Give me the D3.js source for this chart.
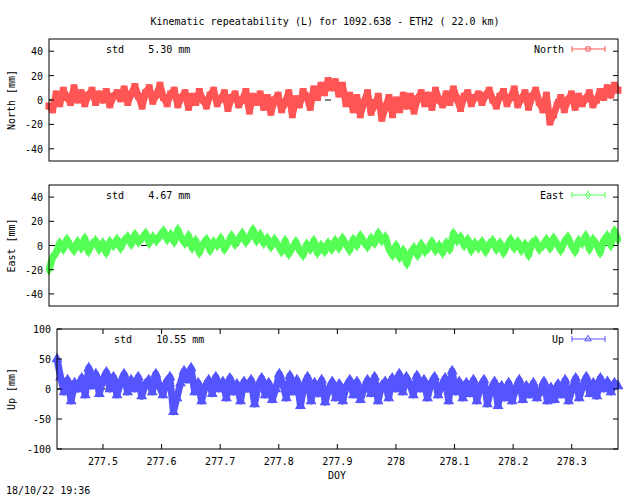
<!DOCTYPE html>
<html>
<head>
<meta charset="utf-8">
<script src="https://cdn.jsdelivr.net/npm/d3@7"></script>
<style>
  body { margin: 0; background: #fff; }
  text { font-family: "DejaVu Sans Mono", monospace; font-size: 10px; fill: #000; }
</style>
</head>
<body>
<div id="chart"></div>
<script>
// time span (DOY) of the session
const timeStart = 277.4215;
const timeEnd = 278.379;
const xTickValues = [277.5, 277.6, 277.7, 277.8, 277.9, 278, 278.1, 278.2, 278.3];

// residuals in mm (evenly spaced in time)
const northValues = [
  -5, -8, 5, -3, 8, 2, -2, 10, 0, 6, -3, 4, 8, -2, 5, 0, 7, -4, 3, 6,
  1, 9, -2, 5, 11, 3, -5, 6, 10, -1, 4, 12, 2, -3, 5, 8, -4, 2, 6, -6,
  3, -2, 7, 0, -5, 4, 8, -3, 1, 6, -7, 2, 5, -4, 0, 7, -9, 3, -2, 5,
  -6, 2, -10, 0, 4, -8, -2, 6, -12, 1, -4, 7, 3, -6, 9, 2, 12, 6, 16, 10,
  15, 5, 12, -3, 4, -8, 2, -12, -2, 6, -10, -4, 3, -15, -6, 2, -12, 0, -8, 4,
  -5, 3, -9, 1, 6, -3, 4, -6, 8, 0, -4, 5, -2, 9, 1, -7, 3, 6, -3, 2,
  5, -2, 4, 8, 0, -5, 3, 7, -3, 2, 9, -4, 1, 6, -6, 3, 8, -2, -8, 4,
  -18, -12, -4, 2, -8, 0, 5, -6, 3, -3, 1, 6, -4, 0, 7, 2, 10, 4, 12, 8
];
const eastValues = [
  -20, -10, -6, 2, -3, 5, 0, -4, 3, -2, 6, -5, 1, 4, -3, 2, -6, 3, 0, 5,
  -2, 4, 7, 1, 9, 3, 6, 10, 2, 7, 4, 8, 12, 5, 9, 3, 13, 6, 2, 8,
  -2, 4, -6, 1, 5, -4, 3, 0, 6, -3, 2, 8, 1, 5, 10, 3, 7, 13, 4, 9,
  2, 6, -1, 5, 0, -5, 4, -7, -2, 3, -4, -8, 1, -3, 4, -6, 0, -5, 2, -3,
  4, -2, 6, 1, -4, 5, 0, 8, 3, -1, 6, 2, 10, 4, 7, -3, -8, 0, -10, -4,
  -15, -6, -2, -8, 1, -5, -2, 3, -4, 0, -6, 2, -3, 10, 4, 7, 0, 5, -4, 2,
  -2, 3, -5, 1, 4, -3, 2, -6, 0, 5, -2, 3, -4, 1, -8, 2, 4, -3, 0, 5,
  -2, 6, 1, -4, 3, 7, 0, -5, 4, 2, 8, -3, 5, 1, -6, 4, 8, 0, 12, 5
];
const upValues = [
  50, 20, -5, 15, -20, 10, 0, 18, -10, 35, 5, 25, -8, 15, 28, 0, 20, -10, 10, 25,
  -5, 15, 0, 20, -12, 8, 15, -5, 25, 5, -10, 12, 20, -38, -15, 10, 30, 15, 35, -5,
  10, -20, 5, 15, -8, 20, 0, 12, -15, 18, -5, 8, -20, 12, 0, 15, -25, 5, 18, -10,
  10, -18, 0, 25, 8, -15, 22, -5, 15, -28, 5, 20, -20, 10, -8, 15, -22, 0, 12, -15,
  8, -20, 5, 15, -10, 12, -18, 0, 15, -8, 20, -20, 5, 12, -15, 18, 0, 25, -5, 20,
  8, -10, 22, 0, 15, -15, 10, 20, -10, 5, 18, -20, 30, -5, 12, -15, 10, -8, 15, -20,
  5, 15, -25, 0, 12, -28, 5, -15, 10, -20, 0, 15, -18, 5, -10, 10, -15, -5, 12, -20,
  2, -18, 8, -10, 15, -20, 0, 18, -15, 5, 20, -8, 10, -12, 18, 0, 12, -5, 10, 5
];

const panels = [
  { name: 'North', label: 'North [mm]', std: '5.30', values: northValues, color: '#ff5555',
    symbol: d3.symbolSquare, size: 30, domain: [-50, 50], ticks: [-40, -20, 0, 20, 40],
    left: 49, top: 39, bottom: 161, xTicks: false },
  { name: 'East', label: 'East [mm]', std: '4.67', values: eastValues, color: '#55ff55',
    symbol: d3.symbolDiamond, size: 24, domain: [-50, 50], ticks: [-40, -20, 0, 20, 40],
    left: 49, top: 185, bottom: 306, xTicks: false },
  { name: 'Up', label: 'Up [mm]', std: '10.55', values: upValues, color: '#5555ff',
    symbol: d3.symbolTriangle, size: 30, domain: [-100, 100], ticks: [-100, -50, 0, 50, 100],
    left: 57, top: 329, bottom: 449, xTicks: true }
];
const right = 618;

const svg = d3.select('#chart').append('svg')
  .attr('width', 640).attr('height', 496);

svg.append('text').attr('x', 325).attr('y', 25).attr('text-anchor', 'middle')
  .text('Kinematic repeatability (L) for 1092.638 - ETH2  ( 22.0 km)');

panels.forEach(p => {
  const x = d3.scaleLinear().domain([timeStart, timeEnd]).range([p.left, right]);
  const y = d3.scaleLinear().domain(p.domain).range([p.bottom, p.top]);
  const g = svg.append('g');
  const n = p.values.length;
  const times = p.values.map((v, i) => timeStart + i * (timeEnd - timeStart) / (n - 1));

  // zero line
  g.append('line').attr('x1', p.left).attr('x2', right)
    .attr('y1', y(0)).attr('y2', y(0))
    .attr('stroke', '#000').attr('stroke-dasharray', '6,40');

  // dense epochs merge into a band: join consecutive points with a thick trace
  const line = d3.line().x((d, i) => x(times[i])).y(d => y(d));
  g.append('path').datum(p.values).attr('d', line)
    .attr('fill', 'none').attr('stroke', p.color).attr('stroke-width', 7)
    .attr('stroke-linejoin', 'round');

  const sym = d3.symbol().type(p.symbol).size(p.size);
  g.selectAll('path.pt').data(p.values).enter().append('path')
    .attr('class', 'pt')
    .attr('d', sym)
    .attr('transform', (d, i) => `translate(${x(times[i])},${y(d)})`)
    .attr('fill', p.color).attr('stroke', p.color).attr('stroke-width', 1.5);

  // y ticks on both sides, inside
  p.ticks.forEach(t => {
    g.append('line').attr('x1', p.left).attr('x2', p.left + 5).attr('y1', y(t)).attr('y2', y(t)).attr('stroke', '#000');
    g.append('line').attr('x1', right).attr('x2', right - 5).attr('y1', y(t)).attr('y2', y(t)).attr('stroke', '#000');
    g.append('text').attr('x', p.left - 6).attr('y', y(t) + 4).attr('text-anchor', 'end').text(t);
  });

  if (p.xTicks) {
    xTickValues.forEach(t => {
      g.append('line').attr('x1', x(t)).attr('x2', x(t)).attr('y1', p.bottom).attr('y2', p.bottom - 5).attr('stroke', '#000');
      g.append('line').attr('x1', x(t)).attr('x2', x(t)).attr('y1', p.top).attr('y2', p.top + 5).attr('stroke', '#000');
      g.append('text').attr('x', x(t)).attr('y', p.bottom + 16).attr('text-anchor', 'middle').text(t);
    });
  }

  g.append('rect').attr('x', p.left).attr('y', p.top)
    .attr('width', right - p.left).attr('height', p.bottom - p.top)
    .attr('fill', 'none').attr('stroke', '#000');

  g.append('text').attr('transform', `translate(15,${(p.top + p.bottom) / 2}) rotate(-90)`)
    .attr('text-anchor', 'middle').text(p.label);

  g.append('text').attr('x', p.left + 57).attr('y', p.top + 14)
    .attr('xml:space', 'preserve').text('std    ' + p.std + ' mm');

  // legend
  g.append('text').attr('x', 564).attr('y', p.top + 14).attr('text-anchor', 'end').text(p.name);
  const ly = p.top + 10;
  g.append('line').attr('x1', 572).attr('x2', 605).attr('y1', ly).attr('y2', ly).attr('stroke', p.color);
  [572, 605].forEach(ex => g.append('line').attr('x1', ex).attr('x2', ex)
    .attr('y1', ly - 3).attr('y2', ly + 3).attr('stroke', p.color));
  g.append('path').attr('d', d3.symbol().type(p.symbol).size(18))
    .attr('transform', `translate(588,${ly})`).attr('fill', 'none').attr('stroke', p.color);
});

svg.append('text').attr('x', 337).attr('y', 479).attr('text-anchor', 'middle').text('DOY');
svg.append('text').attr('x', 6).attr('y', 494).text('18/10/22 19:36');
</script>
</body>
</html>
